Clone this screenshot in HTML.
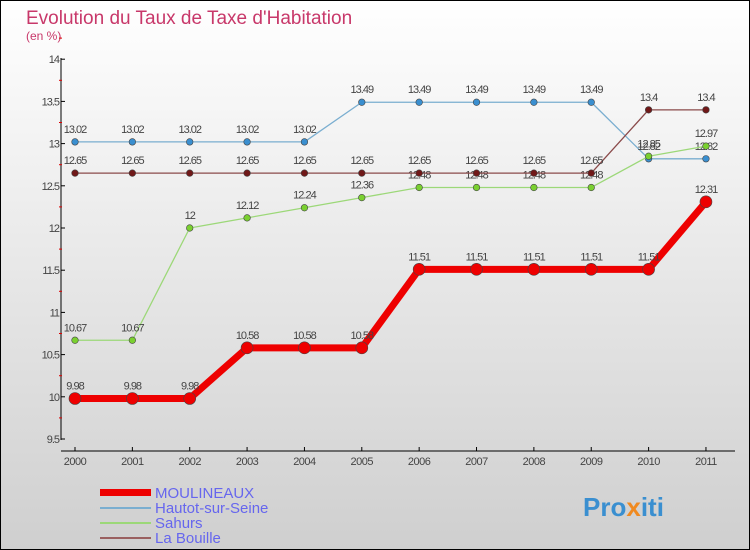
<!DOCTYPE html>
<html><head><meta charset="utf-8"><style>
body{margin:0;width:750px;height:550px;overflow:hidden;font-family:"Liberation Sans",sans-serif}
svg{display:block}
</style></head><body>
<svg id="c" width="750" height="550" xmlns="http://www.w3.org/2000/svg">
<defs><linearGradient id="bg" x1="0" y1="0" x2="0" y2="1"><stop offset="0" stop-color="#ffffff"/><stop offset="1" stop-color="#cfcfcf"/></linearGradient></defs>
<rect x="0.5" y="0.5" width="749" height="549" fill="url(#bg)" stroke="#000"/>
<text x="26" y="24" font-size="19" fill="#c8386a">Evolution du Taux de Taxe d'Habitation</text>
<text x="26" y="40" font-size="12" fill="#c8386a">(en %)</text>
<g id="axes"></g><g id="series"></g>
<g>
<rect x="100" y="489" width="51" height="7" fill="#e00"/>
<text x="155" y="498" font-size="15" fill="#6666ee">MOULINEAUX</text>
<line x1="100" y1="508" x2="151" y2="508" stroke="#7aaed0" stroke-width="2"/>
<text x="155" y="513" font-size="15" fill="#6666ee">Hautot-sur-Seine</text>
<line x1="100" y1="523" x2="151" y2="523" stroke="#9cd878" stroke-width="2"/>
<text x="155" y="528" font-size="15" fill="#6666ee">Sahurs</text>
<line x1="100" y1="538" x2="151" y2="538" stroke="#9a6060" stroke-width="2"/>
<text x="155" y="543" font-size="15" fill="#6666ee">La Bouille</text>
</g>
<g><text x="583" y="516" font-size="26" font-weight="bold" fill="#3a8fd0">Pro<tspan fill="#f08a20">x</tspan>iti</text></g>
</svg>
<script>
const years=["2000","2001","2002","2003","2004","2005","2006","2007","2008","2009","2010","2011"];
const yTicks=[9.5,10,10.5,11,11.5,12,12.5,13,13.5,14];
const moulineaux=[9.98,9.98,9.98,10.58,10.58,10.58,11.51,11.51,11.51,11.51,11.51,12.31];
const hautot=[13.02,13.02,13.02,13.02,13.02,13.49,13.49,13.49,13.49,13.49,12.82,12.82];
const sahurs=[10.67,10.67,12,12.12,12.24,12.36,12.48,12.48,12.48,12.48,12.85,12.97];
const bouille=[12.65,12.65,12.65,12.65,12.65,12.65,12.65,12.65,12.65,12.65,13.4,13.4];
const NS="http://www.w3.org/2000/svg";
const xs=i=>75+i*57.36;
const ys=v=>439-(v-9.5)*84.4;
function mk(t,a,p){const e=document.createElementNS(NS,t);for(const k in a)e.setAttribute(k,a[k]);p.appendChild(e);return e;}
const ax=document.getElementById('axes');
let yl=mk('line',{x1:61,y1:58,x2:61,y2:440,stroke:'#000'},ax);


let xl=mk('line',{x1:61,y1:451,x2:735,y2:451,stroke:'#000'},ax);


yTicks.forEach(v=>{const y=ys(v);mk('line',{x1:61,y1:y,x2:65,y2:y,stroke:'#000'},ax);
const t=mk('text',{x:59,y:y+4,'font-size':11,fill:'#444','text-anchor':'end','letter-spacing':'-1'},ax);t.textContent=String(v);


mk('line',{x1:59,y1:ys(v+0.25),x2:62,y2:ys(v+0.25),stroke:'#d00'},ax);});
years.forEach((yr,i)=>{const x=xs(i);mk('line',{x1:x,y1:447,x2:x,y2:451,stroke:'#000'},ax);
const t=mk('text',{x:x,y:465,'font-size':11,fill:'#444','text-anchor':'middle','letter-spacing':'-0.5'},ax);t.textContent=yr;

});
const sg=document.getElementById('series');
function series(d,col,w,r,dot,name){const g=mk('g',{},sg);


mk('polyline',{points:d.map((v,i)=>xs(i)+','+ys(v)).join(' '),fill:'none',stroke:col,'stroke-width':w,'stroke-linejoin':'round'},g);
d.forEach((v,i)=>{const c=mk('circle',{cx:xs(i),cy:ys(v),r:r,fill:dot,stroke:'#444','stroke-width':0.6},g);


const t=mk('text',{x:xs(i),y:ys(v)-9,'font-size':11,fill:'#444','text-anchor':'middle','letter-spacing':'-1'},g);t.textContent=String(v);});}
series(hautot,'#7aaed0',1.3,3.3,'#3a8fd0','series-hautot');
series(sahurs,'#9cd878',1.3,3.3,'#7ad030','series-sahurs');
series(bouille,'#8a4a4a',1.3,3.3,'#701818','series-la-bouille');
series(moulineaux,'#ee0000',7,6,'#ee0000','series-moulineaux');
</script>
</body></html>
